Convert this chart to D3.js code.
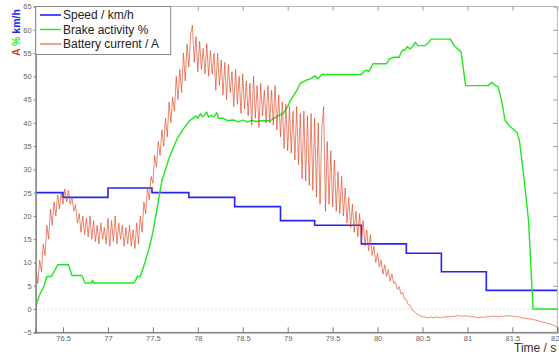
<!DOCTYPE html>
<html>
<head>
<meta charset="utf-8">
<script src="https://cdn.jsdelivr.net/npm/d3@7"></script>
<style>
  html, body { margin: 0; padding: 0; background: #fff; }
  svg { display: block; font-family: 'Liberation Sans', Arial, sans-serif; }
</style>
</head>
<body>
<div class="container"></div>
<script>
// speed / km/h (step changes)
const speedT = [76.196, 76.5, 77.0, 77.49, 77.9, 78.41, 78.92, 79.3, 79.82, 80.32, 80.71, 81.21, 82.0];
const speedV = [25, 24, 26, 25, 24, 22, 19, 18, 14, 12, 8, 4, 4];

// brake activity %
const brakeT = [76.196, 76.21, 76.25, 76.29, 76.32, 76.37, 76.40, 76.44, 76.56, 76.60, 76.71, 76.745, 76.82, 76.83, 76.84,
  77.29, 77.33, 77.36, 77.42, 77.47, 77.50, 77.55, 77.60, 77.69, 77.77, 77.84, 77.91, 77.95, 77.98, 78.0, 78.03, 78.05,
  78.08, 78.10, 78.12, 78.15, 78.18, 78.21, 78.23, 78.28, 78.33, 78.40, 78.45, 78.5, 78.55, 78.6, 78.65, 78.72, 78.80,
  78.85, 78.9, 78.95, 79.0, 79.03, 79.1, 79.14, 79.21, 79.26, 79.3, 79.34, 79.38, 79.82, 79.86, 79.88, 79.9, 79.92, 79.95,
  80.1, 80.13, 80.18, 80.24, 80.27, 80.31, 80.33, 80.36, 80.39, 80.42, 80.45, 80.53, 80.57, 80.6, 80.81, 80.85, 80.89,
  80.93, 80.98, 81.23, 81.27, 81.31, 81.34, 81.38, 81.42, 81.46, 81.5, 81.55, 81.58, 81.63, 81.68, 81.73, 82.0];
const brakeV = [0, 1.5, 3.5, 5, 7, 7, 8, 9.5, 9.5, 7.2, 7.2, 5.6, 5.6, 6.2, 5.6,
  5.6, 7, 7, 10.5, 14, 16.5, 22, 27.6, 33, 36.6, 38.7, 40.5, 41, 41.5, 41, 42, 41.3,
  41.8, 42.3, 41.2, 41.6, 41.3, 42.2, 41, 41, 40.5, 40.6, 40.2, 40.6, 40.2, 40.5, 40.3, 40.5, 40.4,
  41, 41.6, 42, 43.5, 44.8, 46.9, 48.5, 49.2, 49.5, 50.1, 49.5, 50.4, 50.4, 51.2, 51.3, 51, 51.6, 52.7,
  52.7, 53.7, 54.1, 54.1, 55.5, 55.7, 56.4, 55.9, 56.4, 57.3, 56.6, 56.6, 57.3, 58, 58, 56.6, 55.9,
  55.2, 48, 48, 48.7, 48, 47.8, 44.8, 40.5, 39.5, 38.8, 38, 36, 28, 19, 0, 0];

// battery current / A, sampled every 0.02 s from 76.2 s
const currentStart = 76.2;
const currentStep = 0.02;
const currentV = [
  8.5, 5.5, 10.5, 8, 14, 11.5, 18, 15, 21.5, 18,
  23, 20, 24.5, 21.5, 25, 22.5, 25.8, 23, 25.5, 22.5,
  24, 21, 22.5, 18.5, 20.5, 16.5, 20, 16, 19.5, 15.5,
  20, 15, 19, 14.5, 18, 14, 18.5, 15, 17.5, 14,
  19.5, 13.5, 19, 14.5, 20, 14, 18.5, 15, 18, 13.5,
  17.5, 14, 18, 13.5, 17, 13, 18.5, 14, 20, 16.5,
  23, 20.5, 26, 23.5, 28.5, 27, 33, 30.5, 36, 33,
  38.5, 35, 41, 37, 44.5, 40, 45.5, 42.5, 50, 45,
  51.5, 46.5, 55, 49, 57, 52, 59, 61, 53, 58.5,
  51, 57.5, 51.5, 56, 50.5, 57, 50, 55.5, 50.5, 55,
  47, 55, 48, 53.5, 46, 53, 45, 52.5, 46.5, 51,
  43.5, 51.5, 44, 50, 42, 50.5, 43, 49, 41.5, 48.5,
  39.5, 50, 41, 48, 39, 48.5, 41.5, 47, 40, 48,
  40, 47, 39.5, 48, 38.5, 46, 37, 44.5, 34.5, 44,
  34, 43.5, 33.5, 42.5, 32, 43.5, 31, 42, 28, 42.5,
  27.5, 41.5, 26.5, 42, 25.5, 41, 24, 40, 22.5, 39,
  43.5, 21, 36, 22.5, 34, 22, 32, 21, 29.5, 20.5,
  28.5, 20, 26, 18.5, 24, 17.5, 22.5, 16.5, 21, 15.5,
  20.5, 14.5, 19, 13.5, 17, 12.5, 16, 11.5, 13.5, 10,
  12, 9, 10.5, 7.5, 9.5, 7, 8.5, 6, 7.5, 5.5,
  5.8, 4.2, 4.8, 3.2, 3.6, 2.2, 2.0, 1.0, 0.8, -0.1,
  -0.4, -0.7, -1.1, -1.3, -1.5, -1.6, -1.8, -1.7, -1.9, -1.8,
  -1.7, -1.9, -1.8, -1.7, -1.8, -1.9, -1.7, -1.8, -1.6, -1.7,
  -1.6, -1.7, -1.5, -1.6, -1.4, -1.5, -1.4, -1.6, -1.5, -1.4,
  -1.6, -1.5, -1.7, -1.6, -1.8, -1.7, -1.9, -1.8, -1.7, -1.8,
  -1.7, -1.6, -1.7, -1.6, -1.5, -1.6, -1.5, -1.7, -1.6, -1.5,
  -1.6, -1.5, -1.4, -1.5, -1.4, -1.6, -1.5, -1.7, -1.6, -1.8,
  -1.9, -2.0, -1.9, -2.1, -2.0, -2.2, -2.1, -2.3, -2.4, -2.5,
  -2.6, -2.7, -2.9, -2.8, -3.0, -3.2, -3.1, -3.4, -3.5, -3.7,
  -3.9
];

const xTicks = [76.5, 77, 77.5, 78, 78.5, 79, 79.5, 80, 80.5, 81, 81.5, 82];
const yTicks = [-5, 0, 5, 10, 15, 20, 25, 30, 35, 40, 45, 50, 55, 60, 65];
const legendLabels = ['Speed / km/h', 'Brake activity %', 'Battery current / A'];

const width = 559, height = 354;
const box = {left: 35.7, right: 557.3, top: 6.5, bottom: 332.3};
const colors = {speed: '#2424f4', brake: '#1ee81e', current: '#e0401e'};

const x = d3.scaleLinear().domain([76.196, 82]).range([box.left, box.right]);
const y = d3.scaleLinear().domain([-5, 65]).range([box.bottom, box.top]);

const svg = d3.select('.container')
    .append('svg')
    .attr('width', width)
    .attr('height', height);

svg.append('defs').append('clipPath').attr('id', 'clip')
    .append('rect')
    .attr('x', box.left).attr('y', box.top)
    .attr('width', box.right - box.left).attr('height', box.bottom - box.top);

// zero reference
svg.append('line')
    .attr('x1', box.left).attr('x2', box.right)
    .attr('y1', y(0)).attr('y2', y(0))
    .attr('stroke', '#aaa')
    .attr('stroke-width', 0.8)
    .attr('stroke-dasharray', '1,3');

const plot = svg.append('g').attr('clip-path', 'url(#clip)');

const speed = speedT.map((t, i) => [t, speedV[i]]);
const brake = brakeT.map((t, i) => [t, brakeV[i]]);
const current = currentV.map((v, i) => [currentStart + i * currentStep, v]);

plot.append('path')
    .datum(speed)
    .attr('fill', 'none')
    .attr('stroke', colors.speed)
    .attr('stroke-width', 1.6)
    .attr('d', d3.line().x(d => x(d[0])).y(d => y(d[1])).curve(d3.curveStepAfter));

plot.append('path')
    .datum(brake)
    .attr('fill', 'none')
    .attr('stroke', colors.brake)
    .attr('stroke-width', 1.4)
    .attr('stroke-linejoin', 'round')
    .attr('d', d3.line().x(d => x(d[0])).y(d => y(d[1])));

plot.append('path')
    .datum(current)
    .attr('fill', 'none')
    .attr('stroke', colors.current)
    .attr('stroke-width', 0.75)
    .attr('stroke-opacity', 0.85)
    .attr('d', d3.line().x(d => x(d[0])).y(d => y(d[1])));

// axes box
const axisColor = '#777';
svg.append('rect')
    .attr('x', box.left).attr('y', box.top)
    .attr('width', box.right - box.left).attr('height', box.bottom - box.top)
    .attr('fill', 'none')
    .attr('stroke', '#bbb')
    .attr('stroke-width', 1);

const xAxis = svg.append('g')
    .attr('transform', `translate(0,${box.bottom})`)
    .call(d3.axisBottom(x).tickValues(xTicks).tickSize(-5).tickPadding(3).tickFormat(d3.format('')));
xAxis.select('.domain').attr('stroke', axisColor).attr('stroke-width', 1.2);
xAxis.selectAll('.tick line').attr('stroke', axisColor);
xAxis.selectAll('.tick text')
    .attr('fill', '#666')
    .attr('font-size', 7.5)
    .attr('font-family', "'Liberation Sans', Arial, sans-serif");
// last label sits at the window edge: keep it inside
xAxis.selectAll('.tick text')
    .filter(d => d === 82)
    .attr('text-anchor', 'end')
    .attr('dx', 1.5);

// mirrored ticks on top
svg.append('g')
    .attr('transform', `translate(0,${box.top})`)
    .call(d3.axisTop(x).tickValues(xTicks).tickSize(-4).tickFormat(''))
    .call(g => g.select('.domain').remove())
    .selectAll('.tick line').attr('stroke', '#999');

const yAxis = svg.append('g')
    .attr('transform', `translate(${box.left},0)`)
    .call(d3.axisLeft(y).tickValues(yTicks).tickSize(2).tickPadding(2));
yAxis.select('.domain').attr('stroke', axisColor).attr('stroke-width', 1.2);
yAxis.selectAll('.tick line').attr('stroke', axisColor);
yAxis.selectAll('.tick text')
    .attr('fill', '#666')
    .attr('font-size', 7.5)
    .attr('font-family', "'Liberation Sans', Arial, sans-serif");

// mirrored ticks on right
svg.append('g')
    .attr('transform', `translate(${box.right},0)`)
    .call(d3.axisRight(y).tickValues(yTicks).tickSize(-4).tickFormat(''))
    .call(g => g.select('.domain').remove())
    .selectAll('.tick line').attr('stroke', '#999');

// y label, coloured per unit
const ylab = svg.append('text')
    .attr('transform', 'translate(20,56) rotate(-90)')
    .attr('font-size', 10.5)
    .attr('font-weight', 'bold');
ylab.append('tspan').attr('fill', colors.current).text('A');
ylab.append('tspan').attr('fill', colors.brake).text(' % ');
ylab.append('tspan').attr('fill', colors.speed).text('km/h');

// x label (sits under the last tick labels, as in the original)
svg.append('text')
    .attr('x', 514)
    .attr('y', 351.5)
    .attr('font-size', 12)
    .attr('fill', '#333')
    .text('Time / s');

// legend
const legend = svg.append('g');
legend.append('rect')
    .attr('x', box.left).attr('y', box.top)
    .attr('width', 135).attr('height', 48)
    .attr('fill', '#fff')
    .attr('stroke', '#888')
    .attr('stroke-width', 1);

const legendColors = [colors.speed, colors.brake, colors.current];
const legendWidths = [1.6, 1.4, 1];
legendLabels.forEach((label, i) => {
    const ly = 15 + i * 14.5;
    legend.append('line')
        .attr('x1', 40).attr('x2', 61)
        .attr('y1', ly).attr('y2', ly)
        .attr('stroke', legendColors[i])
        .attr('stroke-width', legendWidths[i]);
    legend.append('text')
        .attr('x', 63)
        .attr('y', ly + 4.3)
        .attr('font-size', 12)
        .attr('fill', '#222')
        .text(label);
});
</script>
</body>
</html>
